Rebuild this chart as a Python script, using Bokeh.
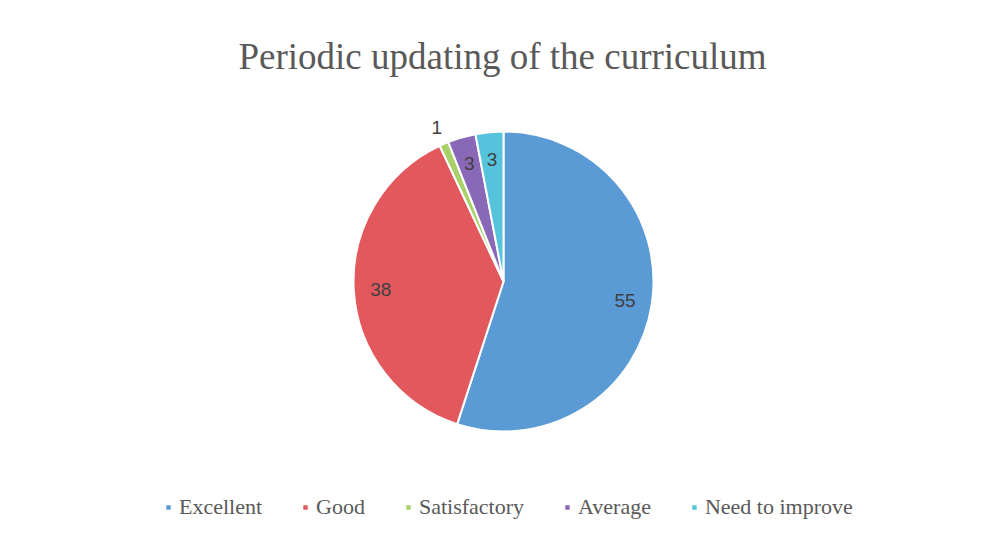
import math
from bokeh.plotting import figure
from bokeh.models import Range1d, ColumnDataSource, Legend, LegendItem
from bokeh.core.properties import value
from bokeh.embed import file_html
from bokeh.resources import INLINE

title = "Periodic updating of the curriculum"
categories = ["Excellent", "Good", "Satisfactory", "Average", "Need to improve"]
values = [55, 38, 1, 3, 3]
colors = ["#5b9bd5", "#e2585c", "#a8d068", "#8a68b8", "#56c3dd"]

W, H = 969, 520
p = figure(width=W, height=H, output_backend="svg", toolbar_location=None,
           x_range=Range1d(0, W), y_range=Range1d(0, H), min_border=0)
p.axis.visible = False
p.grid.visible = False
p.outline_line_color = None
p.background_fill_color = "white"

cx, cy, R = 503, 239, 150
total = sum(values)
starts, ends, lx, ly, lt = [], [], [], [], []
cum = 0
for v in values:
    a0 = math.pi / 2 - 2 * math.pi * cum / total
    a1 = math.pi / 2 - 2 * math.pi * (cum + v) / total
    starts.append(a0)
    ends.append(a1)
    mid = (a0 + a1) / 2
    f = 0.82 if v >= 3 else 1.12
    lx.append(cx + R * f * math.cos(mid))
    ly.append(cy + R * f * math.sin(mid))
    lt.append(str(v))
    cum += v

src = ColumnDataSource(dict(x=[cx] * len(values), y=[cy] * len(values), s=starts, e=ends,
                            c=colors, cat=categories))
wr = p.wedge(x="x", y="y", radius=R, radius_units="screen", start_angle="s", end_angle="e",
             direction="clock", fill_color="c", line_color="white", line_width=2, source=src)

p.text(x=lx, y=ly, text=lt, text_align="center", text_baseline="middle",
       text_font=value("Liberation Sans"), text_font_size="19px", text_color="#404040")

p.text(x=[502], y=[H - 56], text=[title], text_align="center", text_baseline="middle",
       text_font=value("Liberation Serif"), text_font_size="37px", text_color="#595959")

items = [LegendItem(label=categories[i], renderers=[wr], index=i) for i in range(len(categories))]
legend = Legend(items=items, orientation="horizontal", location=(164, 0),
                label_text_font="Liberation Serif", label_text_font_size="22px",
                label_text_color="#595959", glyph_width=8, glyph_height=8,
                spacing=39, label_standoff=7, border_line_color=None,
                background_fill_alpha=0)
p.add_layout(legend, "center")

open("out.html", "w").write(file_html(p, INLINE))
